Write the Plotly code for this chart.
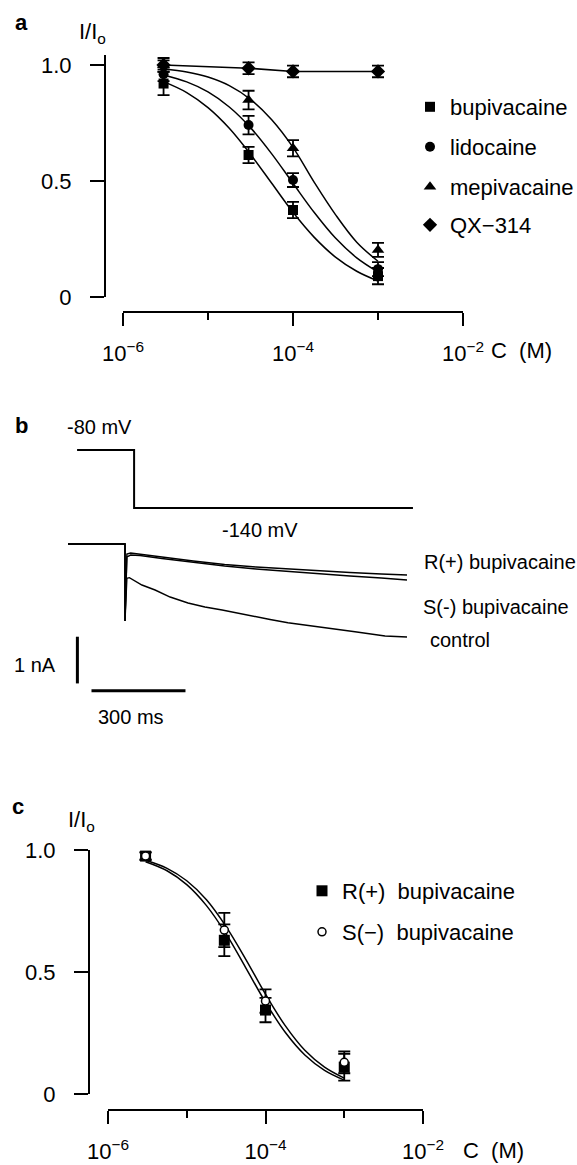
import plotly.graph_objects as go

W, H = 577, 1165


def px(x):
    return x / W


def py(y):
    return 1 - y / H


# ---------------- data: panel a ----------------
CONC = [3e-6, 3e-5, 1e-4, 1e-3]
BUPI = [0.92, 0.612, 0.375, 0.09]
BUPI_ERR = [0.05, 0.035, 0.035, 0.035]
LIDO = [0.96, 0.741, 0.504, 0.12]
LIDO_ERR = [0.03, 0.04, 0.03, 0.03]
MEPI = [1.0, 0.849, 0.641, 0.203]
MEPI_ERR = [0.03, 0.04, 0.035, 0.03]
QX = [1.0, 0.986, 0.972, 0.972]
QX_ERR = [0.02, 0.025, 0.025, 0.025]

FIT_C = [3e-6, 5.62e-6, 1e-5, 1.78e-5, 3.16e-5, 5.62e-5, 1e-4, 1.78e-4, 3.16e-4, 5.62e-4, 1e-3]
BUPI_FIT = [0.928, 0.881, 0.816, 0.727, 0.615, 0.490, 0.365, 0.257, 0.172, 0.111, 0.069]
LIDO_FIT = [0.957, 0.927, 0.884, 0.819, 0.730, 0.617, 0.490, 0.364, 0.254, 0.169, 0.108]
MEPI_FIT = [0.984, 0.970, 0.948, 0.911, 0.852, 0.764, 0.645, 0.494, 0.355, 0.236, 0.154]

# ---------------- data: panel c ----------------
R_VAL = [0.975, 0.63, 0.344, 0.11]
R_ERR = [0.015, 0.065, 0.05, 0.055]
S_VAL = [0.975, 0.672, 0.381, 0.13]
S_ERR = [0.015, 0.07, 0.048, 0.045]
S_FIT = [0.958, 0.925, 0.874, 0.796, 0.686, 0.552, 0.409, 0.280, 0.179, 0.110, 0.065]
R_FIT = [0.952, 0.915, 0.858, 0.772, 0.656, 0.517, 0.376, 0.253, 0.160, 0.097, 0.057]

# ---------------- data: panel b (time in ms, current in nA, voltage in mV) ----------------
VOLT_T = [29, 211, 211, 1101]
VOLT_MV = [-80, -80, -140, -140]
HOLD_T = [0, 182, 182]
HOLD_NA = [0, 0, -1.649]
TRACE_T = [188, 200, 230, 300, 400, 500, 600, 700, 800, 900, 1000, 1082]
R_NA = [-0.214, -0.193, -0.214, -0.278, -0.364, -0.439, -0.492, -0.535, -0.578, -0.610, -0.642, -0.664]
S_NA = [-0.278, -0.236, -0.246, -0.310, -0.396, -0.471, -0.535, -0.589, -0.642, -0.685, -0.728, -0.771]
CTRL_T = [188, 196, 236, 278, 326, 383, 437, 492, 549, 597, 645, 702, 811, 916, 1012, 1082]
CTRL_NA = [-0.734, -0.72, -0.878, -0.985, -1.135, -1.263, -1.349, -1.413, -1.488, -1.563,
           -1.617, -1.685, -1.777, -1.878, -1.970, -1.991]
SCALE_NA = 1.0
SCALE_MS = 300

FA = dict(family="Liberation Sans, Arial", size=22, color="black")
FB = dict(family="Liberation Sans, Arial", size=20, color="black")
BLK = "black"

fig = go.Figure()

# ---- panel a curves ----
for fit in (BUPI_FIT, LIDO_FIT, MEPI_FIT):
    fig.add_trace(go.Scatter(x=FIT_C, y=fit, mode="lines", line=dict(color=BLK, width=1.5, shape="spline"),
                             showlegend=False, hoverinfo="skip", xaxis="x", yaxis="y"))
fig.add_trace(go.Scatter(x=CONC, y=QX, mode="lines", line=dict(color=BLK, width=1.5),
                         showlegend=False, hoverinfo="skip", xaxis="x", yaxis="y"))

series_a = [
    ("bupivacaine", BUPI, BUPI_ERR, "square", 10, "legend"),
    ("lidocaine", LIDO, LIDO_ERR, "circle", 10, "legend2"),
    ("mepivacaine", MEPI, MEPI_ERR, "triangle-up", 11, "legend3"),
    ("QX\u2212314", QX, QX_ERR, "diamond", 11, "legend4"),
]
for name, vals, errs, sym, sz, leg in series_a:
    fig.add_trace(go.Scatter(
        x=CONC, y=vals, mode="markers", name=name, legend=leg,
        marker=dict(symbol=sym, size=sz, color=BLK, line=dict(width=0)),
        error_y=dict(type="data", array=errs, color=BLK, thickness=1.8, width=6),
        cliponaxis=False, xaxis="x", yaxis="y"))

# ---- panel c ----
for fit in (S_FIT, R_FIT):
    fig.add_trace(go.Scatter(x=FIT_C, y=fit, mode="lines", line=dict(color=BLK, width=1.5, shape="spline"),
                             showlegend=False, hoverinfo="skip", xaxis="x2", yaxis="y2"))
fig.add_trace(go.Scatter(
    x=CONC, y=R_VAL, mode="markers", name="R(+)\u00a0\u00a0bupivacaine", legend="legend5",
    marker=dict(symbol="square", size=11, color=BLK, line=dict(width=0)),
    error_y=dict(type="data", array=R_ERR, color=BLK, thickness=1.8, width=6),
    cliponaxis=False, xaxis="x2", yaxis="y2"))
fig.add_trace(go.Scatter(
    x=CONC, y=S_VAL, mode="markers", name="S(\u2212)\u00a0\u00a0bupivacaine", legend="legend6",
    marker=dict(symbol="circle", size=8, color="white", line=dict(width=1.5, color=BLK)),
    error_y=dict(type="data", array=S_ERR, color=BLK, thickness=1.8, width=6),
    cliponaxis=False, xaxis="x2", yaxis="y2"))

# ---- panel b ----
fig.add_trace(go.Scatter(x=VOLT_T, y=VOLT_MV, mode="lines", line=dict(color=BLK, width=2),
                         showlegend=False, hoverinfo="skip", xaxis="x3", yaxis="y3"))
for tt, vv in ((TRACE_T, R_NA), (TRACE_T, S_NA), (CTRL_T, CTRL_NA)):
    fig.add_trace(go.Scatter(x=HOLD_T + tt, y=HOLD_NA + vv, mode="lines",
                             line=dict(color=BLK, width=1.4),
                             showlegend=False, hoverinfo="skip", xaxis="x3", yaxis="y4"))
# scale bars
bar_t0 = 30
bar_top = -1.985
fig.add_trace(go.Scatter(x=[bar_t0, bar_t0], y=[bar_top, bar_top - SCALE_NA], mode="lines",
                         line=dict(color=BLK, width=3), showlegend=False, hoverinfo="skip",
                         xaxis="x3", yaxis="y4"))
hbar_t0 = 75
hbar_y = -3.14
fig.add_trace(go.Scatter(x=[hbar_t0, hbar_t0 + SCALE_MS], y=[hbar_y, hbar_y], mode="lines",
                         line=dict(color=BLK, width=3), showlegend=False, hoverinfo="skip",
                         xaxis="x3", yaxis="y4"))

tick_a = dict(tickvals=[1e-6, 1e-4, 1e-2],
              ticktext=["10<sup>\u22126</sup>", "10<sup>\u22124</sup>", "10<sup>\u22122</sup>"])

common_x = dict(type="log", range=[-6, -2], showline=True, linewidth=2, linecolor=BLK,
                ticks="outside", ticklen=13, tickwidth=2, tickcolor=BLK, showgrid=False,
                zeroline=False, tickfont=FA, tickmode="array", ticklabelstandoff=9,
                automargin=False,
                minor=dict(tickvals=[1e-5, 1e-3], ticks="outside", ticklen=7, tickwidth=2,
                           tickcolor=BLK, showgrid=False),
                anchor="free", **tick_a)
common_y = dict(showline=True, linewidth=2, linecolor=BLK, ticks="outside", ticklen=14,
                tickwidth=2, tickcolor=BLK, showgrid=False, zeroline=False, tickfont=FA,
                tickmode="array", tickvals=[0, 0.5, 1.0], ticktext=["0", "0.5", "1.0"],
                ticklabelstandoff=14, anchor="free", automargin=False)

hidden = dict(visible=False, showgrid=False, zeroline=False, automargin=False)

legends = {}
leg_a_y = [107, 147, 187, 225]
for key, yy in zip(["legend", "legend2", "legend3", "legend4"], leg_a_y):
    legends[key] = dict(x=px(410), y=py(yy), xanchor="left", yanchor="middle", font=FA,
                        bgcolor="rgba(0,0,0,0)", borderwidth=0, itemsizing="trace")
for key, yy in zip(["legend5", "legend6"], [891, 932]):
    legends[key] = dict(x=px(302), y=py(yy), xanchor="left", yanchor="middle", font=FA,
                        bgcolor="rgba(0,0,0,0)", borderwidth=0, itemsizing="trace")

ann = []


def A(text, x, y, font, xanchor="center", yanchor="middle"):
    ann.append(dict(text=text, x=px(x), y=py(y), xref="paper", yref="paper", showarrow=False,
                    font=font, xanchor=xanchor, yanchor=yanchor))


bold = dict(family="Liberation Sans, Arial", size=22, color=BLK, weight="bold")
A("<b>a</b>", 21, 23, bold)
A("<b>b</b>", 21, 425, bold)
A("<b>c</b>", 18, 806, bold)
A("I/I<sub>o</sub>", 77, 33, FA, xanchor="left")
A("I/I<sub>o</sub>", 66, 821, FA, xanchor="left")
A("C\u00a0\u00a0(M)", 489, 350, FA, xanchor="left")
A("C\u00a0\u00a0(M)", 461, 1150, FA, xanchor="left")
A("-80 mV", 99, 427, FB)
A("-140 mV", 260, 530, FB)
A("R(+) bupivacaine", 422, 562, FB, xanchor="left")
A("S(-) bupivacaine", 421, 607, FB, xanchor="left")
A("control", 428, 640, FB, xanchor="left")
A("1 nA", 35, 665, FB)
A("300 ms", 131, 717, FB)

fig.update_layout(
    width=W, height=H, margin=dict(l=0, r=0, t=0, b=0, autoexpand=False),
    paper_bgcolor="white", plot_bgcolor="white",
    xaxis=dict(domain=[px(123), px(463)], position=py(312), **common_x),
    yaxis=dict(domain=[py(297), py(55)], range=[0, 1.043], position=px(105), **common_y),
    xaxis2=dict(domain=[px(108), px(423)], position=py(1110), **common_x),
    yaxis2=dict(domain=[py(1094), py(850)], range=[0, 1.0], position=px(89), **common_y),
    xaxis3=dict(domain=[px(60), px(420)], range=[-25.5, 1123.5], anchor="y3", **hidden),
    yaxis3=dict(domain=[py(520), py(440)], range=[-152.4, -69.66], anchor="x3", **hidden),
    yaxis4=dict(domain=[py(700), py(530)], range=[-3.34, 0.30], anchor="x3", **hidden),
    annotations=ann,
    showlegend=True,
    **legends,
)

fig.write_html("out.html")
